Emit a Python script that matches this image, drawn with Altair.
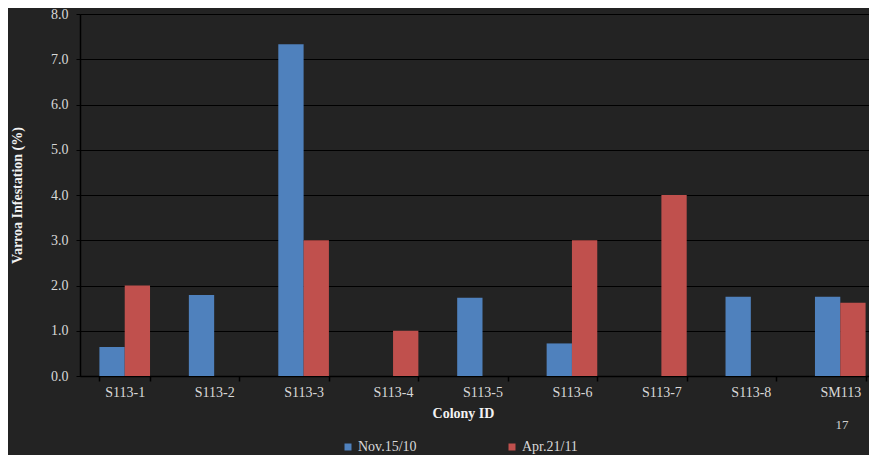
import altair as alt
import pandas as pd

colonies = ["S113-1", "S113-2", "S113-3", "S113-4", "S113-5",
            "S113-6", "S113-7", "S113-8", "SM113"]
series = ["Nov.15/10", "Apr.21/11"]
nov_values = [0.64, 1.79, 7.33, None, 1.73, 0.72, None, 1.75, 1.75]
apr_values = [2.0, None, 3.0, 1.0, None, 3.0, 4.0, None, 1.62]
y_ticks = [0, 1, 2, 3, 4, 5, 6, 7, 8]
colors = ["#4f81bd", "#c0504d"]
page_number = ["17"]

rows = []
for name, vals in zip(series, [nov_values, apr_values]):
    for c, v in zip(colonies, vals):
        if v is not None:
            rows.append({"colony": c, "series": name, "value": v})
df = pd.DataFrame(rows)

FONT = "Liberation Serif"
BG = "#232323"

bars = alt.Chart(df).mark_bar().encode(
    x=alt.X("colony:N", sort=colonies,
            scale=alt.Scale(range=[0, 805], paddingInner=0.434,
                            paddingOuter=0.217),
            axis=alt.Axis(title="Colony ID", labelAngle=0, tickBand="extent",
                          tickSize=5, labelPadding=4, titlePadding=7,
                          titleX=383,
                          domainColor="#000000", domainWidth=1.5,
                          tickColor="#000000", tickWidth=1.5, grid=False)),
    xOffset=alt.XOffset("series:N", sort=series),
    y=alt.Y("value:Q", scale=alt.Scale(domain=[0, 8], nice=False),
            axis=alt.Axis(title="Varroa Infestation (%)", values=y_ticks,
                          format=".1f", tickSize=4, labelPadding=8,
                          titlePadding=26, domainColor="#000000",
                          domainWidth=1.5, tickColor="#000000",
                          gridColor="#000000", gridWidth=1.2)),
    color=alt.Color("series:N", sort=series,
                    scale=alt.Scale(domain=series, range=colors),
                    legend=alt.Legend(title=None, orient="none",
                                      direction="horizontal",
                                      legendX=261, legendY=426,
                                      symbolType="square", symbolSize=49,
                                      symbolStrokeWidth=0,
                                      labelOffset=3, columnPadding=88,
                                      labelFont=FONT, labelFontSize=14,
                                      labelColor="#d9d9d9")),
)

note = alt.Chart(pd.DataFrame({"t": page_number})).mark_text(
    font=FONT, fontSize=13, color="#d0d0d0"
).encode(x=alt.value(762), y=alt.value(411), text="t:N")

chart = alt.layer(bars, note).properties(
    width=789, height=362,
    autosize="none",
    padding={"left": 72, "top": 6, "right": 0, "bottom": 79},
    background=BG,
).configure_view(stroke=None).configure_axis(
    labelFont=FONT, labelFontSize=14, labelColor="#d9d9d9",
    titleFont=FONT, titleFontSize=14, titleFontWeight="bold",
    titleColor="#f2f2f2",
)

chart.save("out.html", embed_options={"renderer": "svg", "actions": False})
